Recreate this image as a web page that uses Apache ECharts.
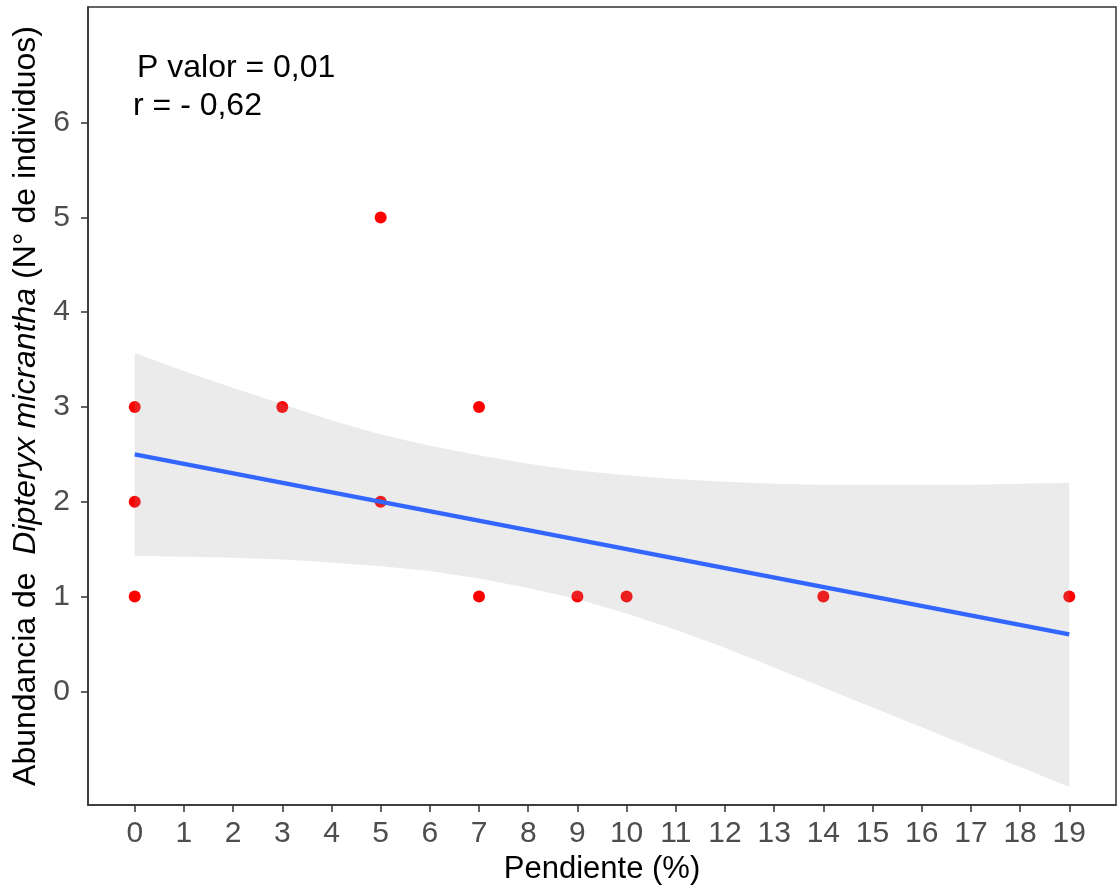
<!DOCTYPE html>
<html>
<head>
<meta charset="utf-8">
<title>Abundancia vs Pendiente</title>
<script src="https://cdn.jsdelivr.net/npm/echarts@6/dist/echarts.min.js"></script>
<style>
  html, body { margin: 0; padding: 0; background: #fff; }
  #main { width: 1117px; height: 885px; }
</style>
</head>
<body>
<div id="main"></div>
<script>
// observaciones: pendiente (%) y abundancia
const pendiente = [0, 0, 0, 3, 5, 5, 7, 7, 9, 10, 14, 19];
const abundancia = [3, 2, 1, 3, 5, 2, 3, 1, 1, 1, 1, 1];

// recta de ajuste (extremos)
const ajusteX = [0, 19];
const ajusteY = [2.5, 0.6];

// banda de confianza
const bandaX = [0, 1, 2, 3, 4, 5, 6, 7, 8, 9, 10, 11, 12, 13, 14, 15, 16, 17, 18, 19];
const bandaSup = [3.57, 3.38, 3.2, 3.03, 2.86, 2.71, 2.59, 2.49, 2.4, 2.33, 2.28, 2.24, 2.21, 2.19, 2.18, 2.18, 2.18, 2.18, 2.19, 2.2];
const bandaInf = [1.43, 1.42, 1.41, 1.39, 1.36, 1.32, 1.27, 1.19, 1.09, 0.97, 0.82, 0.65, 0.46, 0.25, 0.04, -0.17, -0.38, -0.59, -0.8, -1.01];

// etiquetas de los ejes
const ticksX = [0, 1, 2, 3, 4, 5, 6, 7, 8, 9, 10, 11, 12, 13, 14, 15, 16, 17, 18, 19];
const ticksY = [0, 1, 2, 3, 4, 5, 6];

const FONT = '"Liberation Sans", Arial, sans-serif';

let chart = echarts.init(document.getElementById('main'));

let option = {
    animation: false,
    grid: {
        left: 88, right: 1, top: 7, bottom: 80,
        outerBoundsMode: 'none',
        show: true, borderColor: '#333', borderWidth: 1.5,
        backgroundColor: '#fff'
    },
    xAxis: {
        type: 'value', min: -0.95, max: 19.95,
        name: 'Pendiente (%)', nameLocation: 'middle', nameGap: 44,
        nameTextStyle: { fontFamily: FONT, fontSize: 31, color: '#000' },
        axisLine: { show: true, onZero: false, lineStyle: { color: '#333', width: 1.5 } },
        axisTick: { show: true, length: 7, customValues: ticksX, lineStyle: { color: '#333', width: 1.5 } },
        axisLabel: { customValues: ticksX, margin: 14, fontFamily: FONT, fontSize: 30, color: '#4D4D4D' },
        splitLine: { show: false }
    },
    yAxis: {
        type: 'value', min: -1.2, max: 7.22,
        name: '{n|Abundancia de  }{i|Dipteryx micrantha}{n| (N° de individuos)}',
        nameLocation: 'middle', nameRotate: 90, nameGap: 42,
        nameTextStyle: {
            rich: {
                n: { fontFamily: FONT, fontSize: 32, color: '#000' },
                i: { fontFamily: FONT, fontSize: 32, color: '#000', fontStyle: 'italic' }
            }
        },
        axisLine: { show: true, onZero: false, lineStyle: { color: '#333', width: 1.5 } },
        axisTick: { show: true, length: 7, customValues: ticksY, lineStyle: { color: '#333', width: 1.5 } },
        axisLabel: { customValues: ticksY, margin: 18, fontFamily: FONT, fontSize: 30, color: '#4D4D4D' },
        splitLine: { show: false }
    },
    graphic: [
        { type: 'text', left: 137, top: 52, style: { text: 'P valor = 0,01', font: '32px ' + FONT, fill: '#000' } },
        { type: 'text', left: 133, top: 90, style: { text: 'r = - 0,62', font: '32px ' + FONT, fill: '#000' } }
    ],
    series: [
        {
            type: 'scatter', z: 2,
            data: pendiente.map((x, i) => [x, abundancia[i]]),
            symbolSize: 12,
            itemStyle: { color: '#FF0000', opacity: 1 }
        },
        {
            type: 'custom', z: 3,
            data: bandaX.map((x, i) => [x, bandaInf[i], bandaSup[i]]),
            renderItem: function (params, api) {
                if (params.dataIndex !== 0) return null;
                let pts = [];
                for (let i = 0; i < bandaX.length; i++) pts.push(api.coord([bandaX[i], bandaSup[i]]));
                for (let i = bandaX.length - 1; i >= 0; i--) pts.push(api.coord([bandaX[i], bandaInf[i]]));
                return {
                    type: 'polygon',
                    shape: { points: pts },
                    style: { fill: 'rgba(153,153,153,0.2)', stroke: 'none' }
                };
            },
            silent: true
        },
        {
            type: 'line', z: 4,
            data: ajusteX.map((x, i) => [x, ajusteY[i]]),
            symbol: 'none',
            lineStyle: { color: '#3366FF', width: 4.5 }
        }
    ]
};

chart.setOption(option);
</script>
</body>
</html>
